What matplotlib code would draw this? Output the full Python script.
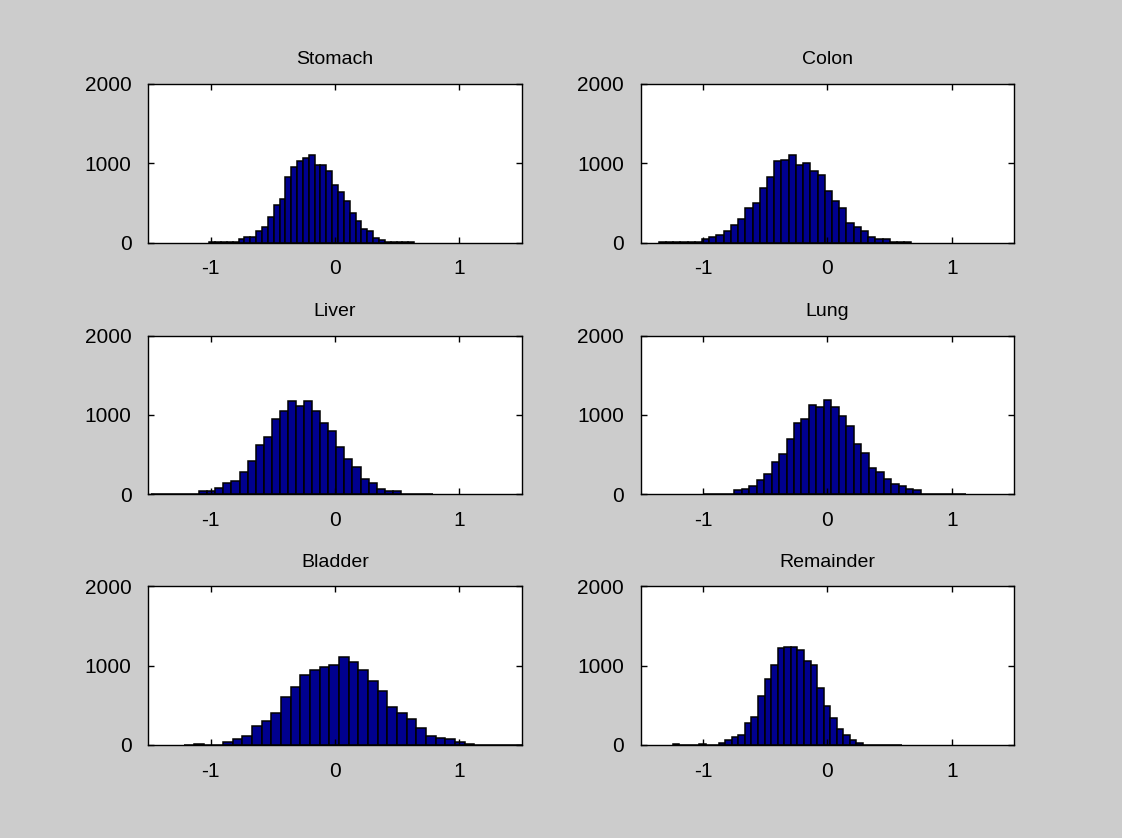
import numpy as np
import matplotlib.pyplot as plt

titles = ['Stomach', 'Colon', 'Liver', 'Lung', 'Bladder', 'Remainder']

# left edge of the first bin and bin width for each organ (35 bins each)
bin_start = [-1.01, -1.355, -1.48, -0.988, -1.21, -1.242]
bin_width = [0.047, 0.058, 0.0648, 0.060, 0.0776, 0.0527]

stomach = [8, 3, 3, 3, 5, 50, 70, 70, 147, 197, 323, 479, 546, 827, 953, 1025,
           1071, 1100, 975, 975, 899, 731, 639, 525, 378, 269, 176, 143, 63, 38,
           10, 8, 6, 5, 5]
colon = [5, 5, 5, 5, 5, 8, 50, 71, 101, 147, 218, 294, 441, 504, 693, 827, 1025,
         1046, 1100, 975, 1004, 899, 857, 651, 525, 441, 252, 197, 147, 71, 50,
         50, 10, 8, 5]
liver = [8, 0, 5, 5, 5, 5, 46, 46, 76, 143, 168, 286, 416, 622, 718, 950, 1050,
         1172, 1118, 1172, 1050, 899, 802, 592, 445, 340, 193, 143, 67, 46, 46,
         5, 5, 5, 5]
lung = [8, 0, 5, 5, 50, 71, 105, 176, 252, 408, 504, 702, 903, 954, 1130, 1101,
        1185, 1101, 983, 857, 630, 525, 332, 282, 197, 126, 101, 71, 50, 10, 8,
        5, 5, 3, 6]
bladder = [5, 10, 5, 5, 42, 72, 118, 241, 304, 401, 600, 726, 878, 949, 979,
           1004, 1105, 1046, 949, 802, 675, 473, 401, 325, 219, 114, 93, 72, 42,
           8, 5, 5, 5, 5, 5]
remainder = [8, 0, 5, 5, 10, 5, 5, 30, 59, 105, 127, 283, 354, 612, 831, 1013,
             1219, 1240, 1240, 1190, 1063, 1013, 713, 485, 338, 207, 127, 59, 30,
             5, 5, 5, 5, 5, 5]

counts = [stomach, colon, liver, lung, bladder, remainder]

x_ticks = [-1, 0, 1]
y_ticks = [0, 1000, 2000]

plt.rcParams['font.family'] = ['Liberation Sans', 'DejaVu Sans']
plt.rcParams['axes.unicode_minus'] = False

fig = plt.figure(figsize=(11.22, 8.38), dpi=100)
fig.patch.set_facecolor('#cccccc')

col_left = [0.1322, 0.571]
row_bottom = [0.7104, 0.4101, 0.111]
ax_w, ax_h = 0.3328, 0.1895

for i, title in enumerate(titles):
    r, c = divmod(i, 2)
    ax = fig.add_axes([col_left[c], row_bottom[r], ax_w, ax_h])
    n = len(counts[i])
    lefts = bin_start[i] + bin_width[i] * np.arange(n)
    ax.bar(lefts, counts[i], width=bin_width[i], align='edge',
           color='#00008f', edgecolor='black', linewidth=1.1)
    ax.set_xlim(-1.5, 1.5)
    ax.set_ylim(0, 2000)
    ax.set_xticks(x_ticks)
    ax.set_yticks(y_ticks)
    ax.tick_params(direction='in', length=4, width=1, top=True, right=True,
                   labelsize=15, pad=12, colors='black')
    for s in ax.spines.values():
        s.set_linewidth(1.0)
    ax.set_title(title, fontsize=14, pad=14)

fig.savefig('out.png', dpi=100, facecolor=fig.get_facecolor())
